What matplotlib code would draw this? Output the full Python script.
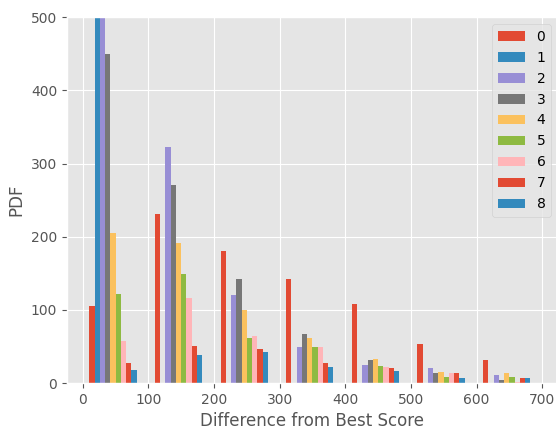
import numpy as np
import matplotlib
matplotlib.use("Agg")
import matplotlib.pyplot as plt

plt.style.use("ggplot")

# bin edges and centres (difference from best score)
bin_edges = [0, 100, 200, 300, 400, 500, 600, 700]
bin_centers = [50, 150, 250, 350, 450, 550, 650]
labels = ["0", "1", "2", "3", "4", "5", "6", "7", "8", "_nolegend_"]

# heights, one list per series (bins 0..6)
s0 = [105, 231, 181, 142, 108, 54, 32]
s1 = [620, 0, 0, 0, 0, 0, 0]
s2 = [560, 322, 121, 50, 25, 20, 11]
s3 = [450, 271, 142, 67, 31, 14, 4]
s4 = [205, 192, 100, 62, 33, 15, 14]
s5 = [122, 149, 62, 50, 24, 8, 8]
s6 = [58, 116, 65, 50, 22, 14, 2]
s7 = [27, 51, 47, 27, 21, 14, 7]
s8 = [18, 39, 43, 22, 16, 7, 7]
s9 = [0, 0, 0, 0, 0, 0, 0]  # empty slot, nothing drawn
series = [s0, s1, s2, s3, s4, s5, s6, s7, s8, s9]

fig = plt.figure(figsize=(5.56, 4.30), dpi=100)
ax = fig.add_axes([0.1205, 0.109, 0.883, 0.851])

colors = ["#E24A33", "#348ABD", "#988ED5", "#777777", "#FBC15E",
          "#8EBA42", "#FFB5B8", "#E24A33", "#348ABD", "#988ED5"]

ax.hist([bin_centers] * len(series), bins=bin_edges, weights=series,
        color=colors, label=labels)

ax.set_ylim(0, 500)
ax.set_xlim(-24, 724)
ax.set_xticks([0, 100, 200, 300, 400, 500, 600, 700])
ax.set_yticks([0, 100, 200, 300, 400, 500])
ax.set_xlabel("Difference from Best Score")
ax.set_ylabel("PDF")
ax.legend(loc="upper right")

fig.savefig("out.png", dpi=100)
